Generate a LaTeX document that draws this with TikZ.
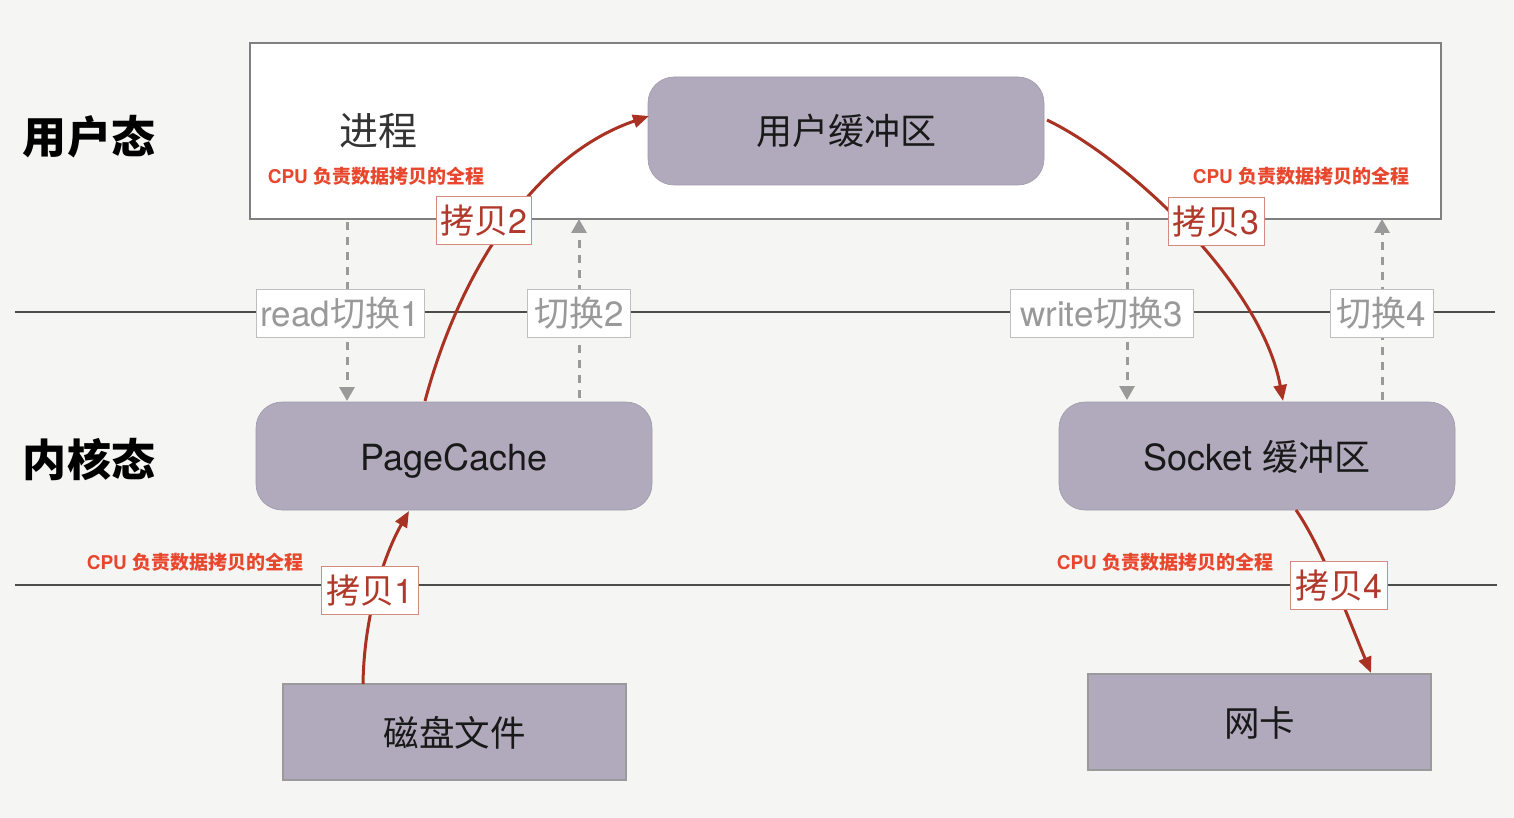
\documentclass[tikz,border=0pt]{standalone}
\usepackage{fontspec}
\setmainfont{TeX Gyre Heros}
\newfontfamily\cjk{Noto Sans CJK SC}
\usetikzlibrary{arrows.meta}
\definecolor{bgc}{HTML}{F5F5F3}
\definecolor{boxc}{HTML}{B1AABD}
\definecolor{arrred}{HTML}{A93222}
\definecolor{cpured}{HTML}{E8472E}
\definecolor{labred}{HTML}{B0392B}
\definecolor{labbord}{HTML}{D58A80}
\definecolor{graytx}{HTML}{999999}
\definecolor{grayln}{HTML}{9A9A9A}
\tikzset{
  rbox/.style={fill=boxc, draw=boxc!90!black, line width=0.6pt, rounded corners=26pt, minimum width=396pt, minimum height=108pt, font=\fontsize{36}{42}\selectfont, text=black!90, text height=33pt, text depth=5pt},
  sbox/.style={fill=boxc, draw=grayln, line width=1.2pt, minimum width=343pt, minimum height=96pt, font=\fontsize{35.5}{42}\selectfont, text=black!90, text height=33pt, text depth=5pt},
  cpulab/.style={text=cpured, font=\fontsize{19}{22}\selectfont\bfseries},
  copylab/.style={fill=white, draw=labbord, line width=1pt, text=labred, inner xsep=2pt, inner ysep=2pt, minimum height=48pt, font=\fontsize{34}{40}\selectfont, text height=31pt, text depth=5pt},
  swlab/.style={fill=white, draw=black!25, line width=1pt, text=graytx, inner xsep=2pt, inner ysep=2pt, minimum height=48pt, font=\fontsize{35}{40}\selectfont, text height=32pt, text depth=5pt},
  redarr/.style={draw=arrred, line width=3pt, -{Triangle[length=16pt,width=13pt]}},
  swarr/.style={draw=grayln, line width=3pt, dash pattern=on 8pt off 7pt, -{Triangle[length=14pt,width=15pt]}},
  sep/.style={draw=black!70, line width=1.6pt},
  state/.style={font=\fontsize{44}{50}\selectfont\bfseries\cjk, text=black}
}
\begin{document}
\begin{tikzpicture}[x=1pt,y=-1pt]
\fill[bgc] (0,0) rectangle (1514,818);
\useasboundingbox (0,0) rectangle (1514,818);
% user space frame
\node[draw=black!50, fill=white, line width=1.2pt, minimum width=1191pt, minimum height=176pt, inner sep=0pt] (ubox) at (845.5,131) {};
% separators
\coordinate (l1a) at (15,312); \coordinate (l1b) at (1495,312);
\coordinate (l2a) at (15,585); \coordinate (l2b) at (1497,585);
\draw[sep] (l1a) -- (l1b);
\draw[sep] (l2a) -- (l2b);
% state labels
\node[state] (us) at (89,137) {用户态};
\node[state] (ks) at (89,460) {内核态};
\node[font=\fontsize{39}{45}\selectfont\cjk, text=black!80] (proc) at (378,131) {进程};
% boxes
\node[rbox] (ub) at (846,131) {\cjk 用户缓冲区};
\node[rbox] (pc) at (454,456) {PageCache};
\node[rbox] (sb) at (1257,456) {Socket {\cjk 缓冲区}};
\node[sbox] (disk) at (454.5,732) {\cjk 磁盘文件};
\node[sbox] (nic) at (1259.5,722) {\cjk 网卡};
% CPU notes
\node[cpulab] (n1) at (376,176) {CPU {\cjk 负责数据拷贝的全程}};
\node[cpulab] (n2) at (1301,176) {CPU {\cjk 负责数据拷贝的全程}};
\node[cpulab] (n3) at (195,562) {CPU {\cjk 负责数据拷贝的全程}};
\node[cpulab] (n4) at (1165,562) {CPU {\cjk 负责数据拷贝的全程}};
% switch arrows
\coordinate (s1) at (347,222); \coordinate (s1e) at (347,401);
\coordinate (s2) at (579,398); \coordinate (s2e) at (579,219);
\coordinate (s3) at (1127,222); \coordinate (s3e) at (1127,400);
\coordinate (s4) at (1382,400); \coordinate (s4e) at (1382,219);
\draw[swarr] (s1) -- (s1e);
\draw[swarr] (s2) -- (s2e);
\draw[swarr] (s3) -- (s3e);
\draw[swarr] (s4) -- (s4e);
\node[swlab, minimum width=168pt] (w1) at (340,313) {read{\cjk 切换}1};
\node[swlab, minimum width=103pt] (w2) at (579,313) {{\cjk 切换}2};
\node[swlab, minimum width=183pt] (w3) at (1101.5,313) {write{\cjk 切换}3};
\node[swlab, minimum width=103pt] (w4) at (1381.5,313) {{\cjk 切换}4};
% copy arrows
\coordinate (c1s) at (363,684); \coordinate (c1e) at (409,511);
\coordinate (c2s) at (425,401); \coordinate (c2e) at (649,116);
\coordinate (c3s) at (1047,120); \coordinate (c3e) at (1283,401);
\coordinate (c4s) at (1296,510); \coordinate (c4e) at (1371,673);
\draw[redarr] (c1s) .. controls (364,615) and (384,555) .. (c1e);
\draw[redarr] (c2s) .. controls (460,270) and (535,155) .. (c2e);
\draw[redarr] (c3s) .. controls (1130,160) and (1262,285) .. (c3e);
\draw[redarr] (c4s) .. controls (1322,548) and (1345,610) .. (c4e);
\node[copylab, minimum width=97pt] (k1) at (370,590) {{\cjk 拷贝}1};
\node[copylab, minimum width=95pt] (k2) at (483.5,220.5) {{\cjk 拷贝}2};
\node[copylab, minimum width=96pt] (k3) at (1216,221.5) {{\cjk 拷贝}3};
\node[copylab, minimum width=97pt] (k4) at (1338.5,585) {{\cjk 拷贝}4};
\end{tikzpicture}
\end{document}
